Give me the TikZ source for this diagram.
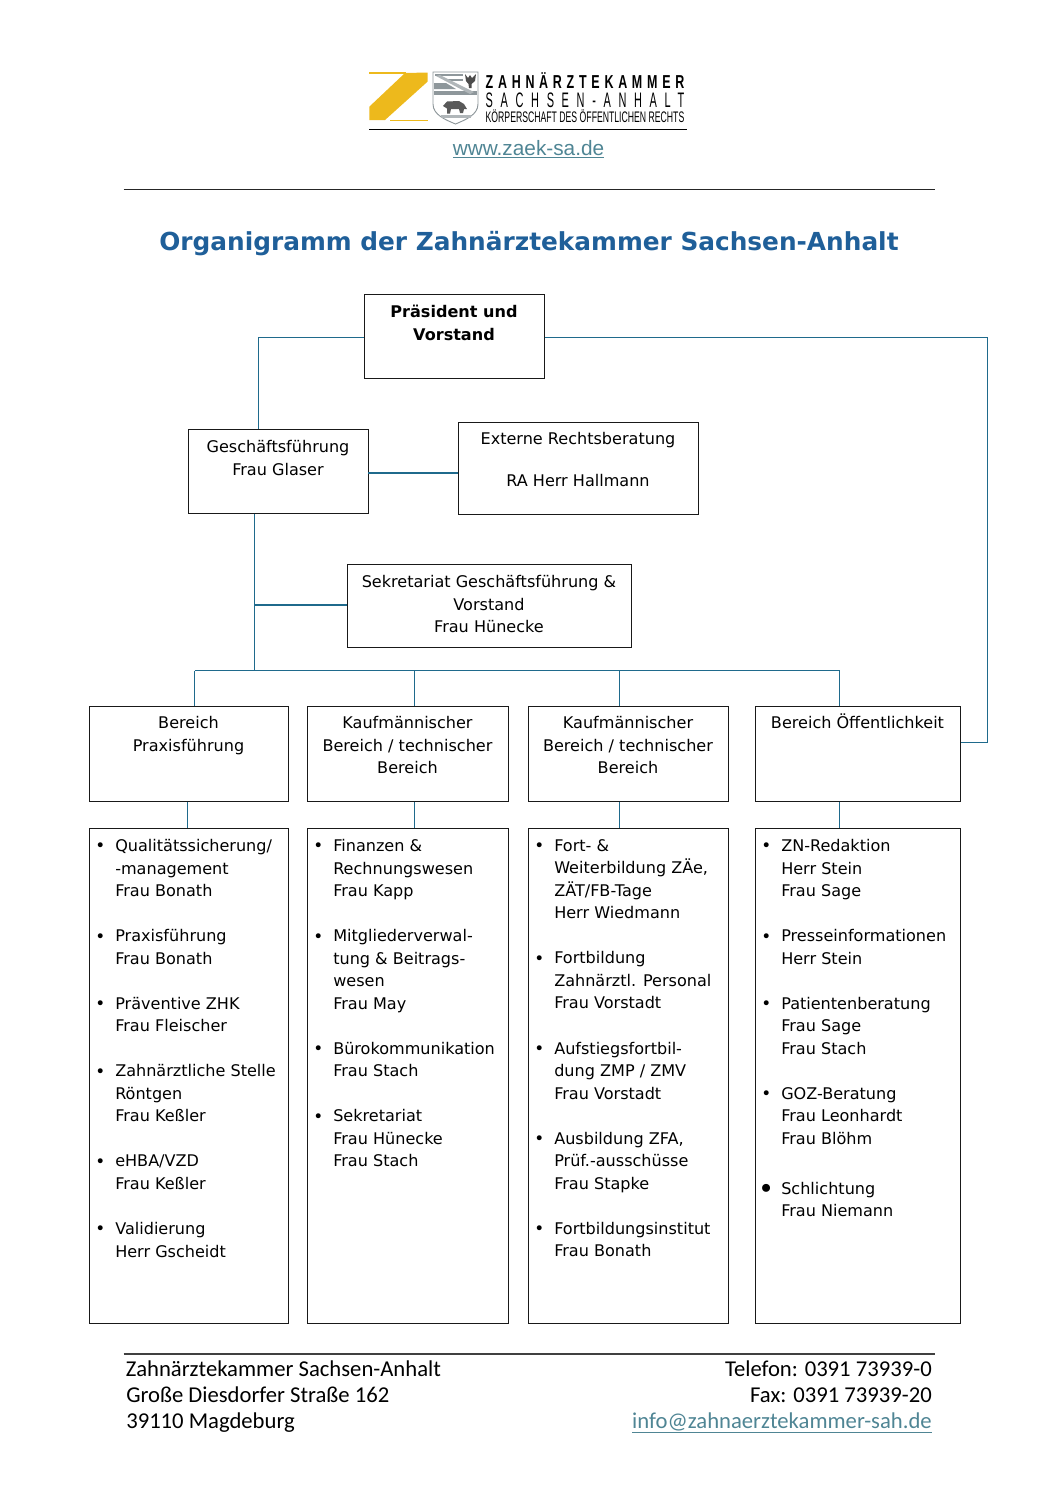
\documentclass[tikz,border=0pt]{standalone}
\usepackage{fontspec}
\usepackage{graphicx}
\setmainfont{DejaVu Sans}
\newfontfamily\footfont{Carlito}
\newfontfamily\webfont{Liberation Sans}
\newfontfamily\narrowfont{Liberation Sans}
\definecolor{conn}{HTML}{1F6A8C}
\definecolor{titleblue}{HTML}{1F5F99}
\definecolor{linkc}{HTML}{4F8594}
\definecolor{gold}{HTML}{EDB91C}
\definecolor{shieldg}{HTML}{8E979B}
\newcommand{\bul}{\llap{\raisebox{-0.3pt}{\scalebox{1.05}{\textbullet}}\hspace{7.5pt}}}
\newcommand{\bulbig}{\llap{\raisebox{-3pt}{\scalebox{1.7}{\textbullet}}\hspace{5.2pt}}}
\tikzset{
  x=0.75pt,y=-0.75pt,
  boxn/.style={draw=black!90,line width=0.7pt,inner sep=0pt,anchor=north west},
  ctext/.style={align=center,anchor=north,inner sep=0pt,font=\fontsize{12.05pt}{16.9pt}\selectfont},
  ltext/.style={align=left,anchor=north west,inner sep=0pt,font=\fontsize{12.05pt}{16.9pt}\selectfont},
  conline/.style={draw=conn,line width=0.8pt},
  foot/.style={inner sep=0pt,font=\fontsize{17pt}{19.5pt}\footfont},
}
\begin{document}
\begin{tikzpicture}
\useasboundingbox (0,0) rectangle (1058,1497);
% logo
\fill[gold] (405,73) -- (427.5,72.5) -- (427.5,81.7) -- (385,120) -- (369.3,120) -- (369.3,106.7) -- cycle;
\fill[gold] (369,72) rectangle (406,73.5);
\fill[gold] (390,119.5) rectangle (428,121);
\draw[shieldg,line width=0.7pt,fill=white] (433,72) -- (478,72) -- (478,104) .. controls (478,115) and (465,120) .. (455.5,124) .. controls (446,120) and (433,115) .. (433,104) -- cycle;
\fill[shieldg] (435,74) rectangle (463,76);
\fill[shieldg] (447,78.5) rectangle (463,81);
\fill[shieldg] (434,83) -- (446,83) -- (456,89) -- (434,89) -- cycle;
\fill[shieldg] (434,91) -- (477,91) -- (477,95) -- (434,95) -- cycle;
\fill[shieldg!70] (436,76) -- (440,75) -- (474,92) -- (470,94) -- cycle;
\fill[black!70] (465,74) -- (468,78) -- (470,75) -- (472,78) -- (476,74) -- (475,81) -- (471.5,84) -- (471.5,88) -- (469,88) -- (468.5,84) -- (466,81) -- cycle;
\fill[black!65] (443,106) -- (447,101.5) -- (459,101) -- (464,104) -- (467,109) -- (464,109) -- (463,113) -- (460,113) -- (459,109) -- (451,109) -- (450,113.5) -- (447,113.5) -- (447,108.5) -- cycle;
\fill[shieldg!70] (441,115) rectangle (471,118);
\node[inner sep=0pt] (lg1) at (585,80) {\resizebox{149pt}{12pt}{\narrowfont\bfseries\addfontfeature{LetterSpace=38}ZAHNÄRZTEKAMMER}};
\node[inner sep=0pt] (lg2) at (585,100) {\resizebox{149pt}{11pt}{\narrowfont\addfontfeature{LetterSpace=70}SACHSEN-ANHALT}};
\node[inner sep=0pt] (lg3) at (585,116) {\resizebox{149pt}{9.6pt}{\narrowfont KÖRPERSCHAFT DES ÖFFENTLICHEN RECHTS}};
\coordinate (lgl) at (369,129); \coordinate (lgr) at (687,129);
\draw[black,line width=0.6pt] (lgl) -- (lgr);
\node[inner sep=0pt,text=linkc] (web) at (528.5,149) {\webfont\fontsize{15.6pt}{16pt}\selectfont\underline{www.zaek-sa.de}};
\coordinate (hl) at (123.5,189); \coordinate (hr) at (935,189);
\draw[black!85,line width=0.7pt] (hl) -- (hr);
\node[inner sep=0pt,text=titleblue] (title) at (529,244) {\bfseries\fontsize{18.6pt}{24pt}\selectfont Organigramm der Zahnärztekammer Sachsen-Anhalt};
% top boxes
\node[boxn,minimum width=180*0.75pt,minimum height=84*0.75pt] (pres) at (363.6,293.6) {};
\node[ctext] (prest) at (454,305) {\bfseries Präsident und\\\bfseries Vorstand};
\node[boxn,minimum width=180*0.75pt,minimum height=84*0.75pt] (gf) at (187.6,428.6) {};
\node[ctext] (gft) at (278,440) {Geschäftsführung\\Frau Glaser};
\node[boxn,minimum width=240*0.75pt,minimum height=92*0.75pt] (ext) at (457.6,421.6) {};
\node[ctext] (extt) at (578,432) {Externe Rechtsberatung\\[3.3pt]\phantom{x}\\[-5.3pt]RA Herr Hallmann};
\node[boxn,minimum width=284*0.75pt,minimum height=83*0.75pt] (sek) at (346.6,563.6) {};
\node[ctext] (sekt) at (489,575) {Sekretariat Geschäftsführung \&\\Vorstand\\Frau Hünecke};
% area boxes
\node[boxn,minimum width=199*0.75pt,minimum height=95*0.75pt] (b1) at (88.6,705.6) {};
\node[boxn,minimum width=201*0.75pt,minimum height=95*0.75pt] (b2) at (306.6,705.6) {};
\node[boxn,minimum width=200*0.75pt,minimum height=95*0.75pt] (b3) at (527.6,705.6) {};
\node[boxn,minimum width=205*0.75pt,minimum height=95*0.75pt] (b4) at (754.6,705.6) {};
\node[ctext] (b1t) at (188.5,716) {Bereich\\Praxisführung};
\node[ctext] (b2t) at (407.5,716) {Kaufmännischer\\Bereich / technischer\\Bereich};
\node[ctext] (b3t) at (628,716) {Kaufmännischer\\Bereich / technischer\\Bereich};
\node[ctext] (b4t) at (857.5,714) {Bereich Öffentlichkeit};
% list boxes
\node[boxn,minimum width=199*0.75pt,minimum height=495*0.75pt] (l1) at (88.6,827.6) {};
\node[boxn,minimum width=201*0.75pt,minimum height=495*0.75pt] (l2) at (306.6,827.6) {};
\node[boxn,minimum width=200*0.75pt,minimum height=495*0.75pt] (l3) at (527.6,827.6) {};
\node[boxn,minimum width=205*0.75pt,minimum height=495*0.75pt] (l4) at (754.6,827.6) {};
\node[ltext] (l1t) at (115,839) {\bul Qualitätssicherung/\\-management\\Frau Bonath\\[16.9pt]\bul Praxisführung\\Frau Bonath\\[16.9pt]\bul Präventive ZHK\\Frau Fleischer\\[16.9pt]\bul Zahnärztliche Stelle\\Röntgen\\Frau Keßler\\[16.9pt]\bul eHBA/VZD\\Frau Keßler\\[16.9pt]\bul Validierung\\Herr Gscheidt};
\node[ltext] (l2t) at (333,839) {\bul Finanzen \&\\Rechnungswesen\\Frau Kapp\\[16.9pt]\bul Mitgliederverwal-\\tung \& Beitrags-\\wesen\\Frau May\\[16.9pt]\bul Bürokommunikation\\Frau Stach\\[16.9pt]\bul Sekretariat\\Frau Hünecke\\Frau Stach};
\node[ltext] (l3t) at (554,839) {\bul Fort- \&\\Weiterbildung ZÄe,\\ZÄT/FB-Tage\\Herr Wiedmann\\[16.9pt]\bul Fortbildung\\Zahnärztl. Personal\\Frau Vorstadt\\[16.9pt]\bul Aufstiegsfortbil-\\dung ZMP / ZMV\\Frau Vorstadt\\[16.9pt]\bul Ausbildung ZFA,\\Prüf.-ausschüsse\\Frau Stapke\\[16.9pt]\bul Fortbildungsinstitut\\Frau Bonath};
\node[ltext] (l4t) at (781,839) {\bul ZN-Redaktion\\Herr Stein\\Frau Sage\\[16.9pt]\bul Presseinformationen\\Herr Stein\\[16.9pt]\bul Patientenberatung\\Frau Sage\\Frau Stach\\[16.9pt]\bul GOZ-Beratung\\Frau Leonhardt\\Frau Blöhm\\[20.6pt]\bulbig Schlichtung\\Frau Niemann};
% connector junctions
\coordinate (pl) at (258.8,337.6);
\coordinate (pr) at (987.8,337.6);
\coordinate (rr) at (987.8,742.6);
\coordinate (ge) at (368,473);
\coordinate (trunk) at (254.8,670.8);
\coordinate (sj) at (254.8,605);
\coordinate (busl) at (194.8,670.8);
\coordinate (busb) at (414.8,670.8);
\coordinate (busc) at (619.8,670.8);
\coordinate (busr) at (839.8,670.8);
\coordinate (x1) at (187.8,815);
\draw[conline] (pl -| pres.west) -- (pl) -- (pl |- gf.north);
\draw[conline] (pr -| pres.east) -- (pr) -- (rr) -- (rr -| b4.east);
\draw[conline] (ge) -- (ge -| ext.west);
\draw[conline] (trunk |- gf.south) -- (trunk);
\draw[conline] (sj) -- (sj -| sek.west);
\draw[conline] (busl) -- (busr);
\draw[conline] (busl) -- (busl |- b1.north);
\draw[conline] (busb) -- (busb |- b2.north);
\draw[conline] (busc) -- (busc |- b3.north);
\draw[conline] (busr) -- (busr |- b4.north);
\draw[conline] (x1 |- b1.south) -- (x1 |- l1.north);
\draw[conline] (busb |- b2.south) -- (busb |- l2.north);
\draw[conline] (busc |- b3.south) -- (busc |- l3.north);
\draw[conline] (busr |- b4.south) -- (busr |- l4.north);
% footer
\coordinate (fl) at (123.5,1354); \coordinate (fr) at (935,1354);
\draw[black!75,line width=0.8pt] (fl) -- (fr);
\node[foot,anchor=base west] (f1) at (125.5,1376) {Zahnärztekammer Sachsen-Anhalt};
\node[foot,anchor=base west] (f2) at (126,1402) {Große Diesdorfer Straße 162};
\node[foot,anchor=base west] (f3) at (126,1428) {39110 Magdeburg};
\node[foot,anchor=base east] (f4) at (932,1376) {Telefon: 0391 73939-0};
\node[foot,anchor=base east] (f5) at (932,1402) {Fax: 0391 73939-20};
\node[foot,anchor=base east,text=linkc] (f6) at (932,1428) {\underline{info@zahnaerztekammer-sah.de}};
\end{tikzpicture}
\end{document}
